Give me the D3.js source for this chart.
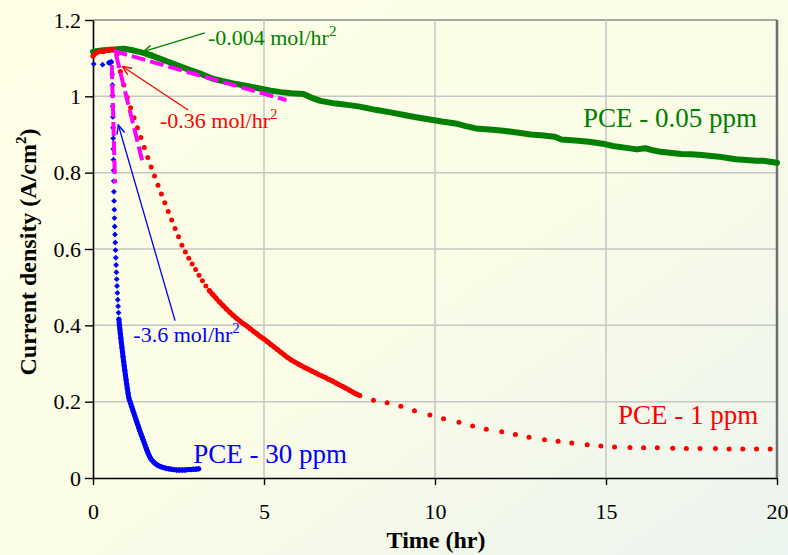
<!DOCTYPE html>
<html>
<head>
<meta charset="utf-8">
<script src="https://cdn.jsdelivr.net/npm/d3@7"></script>
<style>
body{margin:0;background:#fff;}
svg{display:block;font-family:"Liberation Serif","Times New Roman",serif;}
</style>
</head>
<body>
<div id="chart"></div>
<script>
// values
var xTicks=[0,5,10,15,20];
var xTickLabels=["0","5","10","15","20"];
var yTicks=[0,0.2,0.4,0.6,0.8,1,1.2];
var yTickLabels=["0","0.2","0.4","0.6","0.8","1","1.2"];

// PCE - 0.05 ppm
var greenTime=[0,0.3,0.6,0.9,1.2,1.5,1.8,2.1,2.5,2.8,3.1,3.5,3.8,4.1,4.5,4.8,5.2,5.5,5.8,6.15,6.4,6.65,7.1,7.5,7.8,8.3,8.7,9.1,9.4,9.8,10.2,10.6,10.9,11.2,11.6,12.0,12.4,12.8,13.1,13.5,13.7,14.1,14.5,14.9,15.2,15.6,15.9,16.15,16.4,16.6,17.2,17.5,17.8,18.3,18.6,18.8,19.1,19.4,19.6,20];
var greenCurrent=[1.117,1.121,1.123,1.125,1.120,1.113,1.104,1.094,1.080,1.070,1.061,1.046,1.040,1.034,1.027,1.022,1.015,1.011,1.008,1.006,0.996,0.988,0.981,0.977,0.973,0.964,0.958,0.951,0.946,0.940,0.934,0.929,0.922,0.916,0.913,0.910,0.905,0.900,0.898,0.894,0.887,0.884,0.881,0.876,0.870,0.865,0.861,0.864,0.858,0.855,0.849,0.848,0.846,0.842,0.838,0.835,0.833,0.831,0.831,0.826];

// PCE - 1 ppm
var redTime=[0,0.1,0.2,0.3,0.4,0.5,0.6,0.7,0.8,0.9,1.0,1.1,1.2,1.3,1.4,1.5,1.6,1.7,1.8,1.9,2.0,2.1,2.2,2.3,2.4,2.5,2.6,2.7,2.8,2.9,3.0,3.1,3.2,3.3,3.4,3.5,3.6,3.7,3.8,3.9,4.0,4.1,4.2,4.3,4.4,4.5,4.6,4.7,4.8,4.9,5.0,5.1,5.2,5.3,5.4,5.5,5.6,5.7,5.8,5.9,6.0,6.1,6.2,6.3,6.4,6.5,6.6,6.7,6.8,6.9,7.0,7.1,7.2,7.3,7.4,7.5,7.6,7.7,7.8,
  8.2,8.6,9.0,9.4,9.85,10.25,10.7,11.1,11.5,11.95,12.35,12.75,13.2,13.6,14.0,14.45,14.85,15.25,15.7,16.1,16.5,16.95,17.35,17.75,18.2,18.6,19.0,19.4,19.8];
var redCurrent=[1.106,1.114,1.119,1.117,1.121,1.122,1.123,1.110,1.065,1.030,0.997,0.970,0.944,0.918,0.892,0.866,0.840,0.815,0.791,0.767,0.744,0.721,0.698,0.676,0.654,0.632,0.610,0.592,0.576,0.561,0.546,0.531,0.517,0.503,0.491,0.481,0.471,0.461,0.452,0.443,0.434,0.426,0.418,0.411,0.404,0.398,0.391,0.384,0.377,0.370,0.364,0.357,0.350,0.343,0.336,0.329,0.322,0.315,0.309,0.304,0.299,0.294,0.289,0.285,0.280,0.276,0.271,0.267,0.263,0.258,0.254,0.249,0.244,0.240,0.235,0.230,0.225,0.220,0.216,
  0.204,0.197,0.188,0.176,0.165,0.155,0.146,0.136,0.128,0.121,0.114,0.107,0.100,0.096,0.092,0.087,0.084,0.081,0.080,0.079,0.079,0.078,0.077,0.077,0.077,0.076,0.076,0.076,0.076];

// PCE - 30 ppm
var blueTime=[0.02,0.28,0.47,0.53,0.562,0.567,0.572,0.577,0.582,0.587,0.591,0.595,0.599,0.603,0.607,0.611,0.616,0.622,0.628,0.635,0.642,0.650,0.658,0.666,0.675,0.684,0.693,0.703,0.713,0.723,0.734,0.746,0.758,0.771,
  0.785,0.800,0.815,0.830,0.846,0.862,0.878,0.895,0.912,0.930,0.948,0.966,0.985,1.005,1.025,1.046,
  1.07,1.10,1.13,1.16,1.19,1.22,1.25,1.28,1.31,1.34,1.37,1.40,1.43,1.46,1.49,1.52,1.55,1.58,1.61,1.64,1.67,1.70,1.74,1.78,1.83,1.88,1.94,2.00,2.07,2.14,2.21,2.29,2.37,2.45,2.53,2.61,2.69,2.77,2.85,2.93,3.01,3.09];
var blueCurrent=[1.085,1.083,1.088,1.090,1.058,1.030,1.002,0.974,0.946,0.918,0.890,0.862,0.834,0.806,0.778,0.750,0.726,0.703,0.681,0.659,0.638,0.617,0.597,0.577,0.558,0.539,0.521,0.503,0.485,0.467,0.450,0.433,0.416,0.402,
  0.390,0.378,0.366,0.354,0.342,0.330,0.318,0.306,0.294,0.282,0.270,0.258,0.246,0.234,0.222,0.210,
  0.203,0.195,0.187,0.179,0.171,0.163,0.155,0.147,0.139,0.131,0.123,0.116,0.109,0.101,0.094,0.087,0.079,0.072,0.065,0.059,0.054,0.049,0.045,0.041,0.037,0.034,0.031,0.029,0.027,0.025,0.024,0.023,0.022,0.021,0.021,0.021,0.021,0.022,0.022,0.023,0.023,0.024];

// dashed tangent lines (start / end)
var tangentTime=[[0.6,5.66],[0.67,1.47],[0.55,0.643]];
var tangentCurrent=[[1.119,0.990],[1.11,0.82],[1.082,0.772]];

var width=788, height=555;
var margin={top:20,right:11,bottom:77,left:93};

var svg=d3.select("#chart").append("svg")
  .attr("width",width).attr("height",height);

var defs=svg.append("defs");
var grad=defs.append("linearGradient").attr("id","bg")
  .attr("x1","0").attr("y1","0").attr("x2","1").attr("y2","1");
grad.append("stop").attr("offset","0").attr("stop-color","#ffffe8");
grad.append("stop").attr("offset","0.5").attr("stop-color","#fbfde6");
grad.append("stop").attr("offset","1").attr("stop-color","#ecf4ef");
svg.append("rect").attr("width",width).attr("height",height).attr("fill","url(#bg)");

function arrowMarker(id,color){
  defs.append("marker").attr("id",id)
    .attr("viewBox","0 0 10 10").attr("refX",9).attr("refY",5)
    .attr("markerWidth",10).attr("markerHeight",10)
    .attr("markerUnits","userSpaceOnUse").attr("orient","auto")
    .append("path").attr("d","M0,1 L9,5 L0,9")
    .attr("fill","none").attr("stroke",color).attr("stroke-width",1.4);
}
arrowMarker("arG","#008000");
arrowMarker("arR","#ff0000");
arrowMarker("arB","#0000ff");

var x=d3.scaleLinear().domain([0,20]).range([margin.left,width-margin.right]);
var y=d3.scaleLinear().domain([0,1.2]).range([height-margin.bottom,margin.top]);

// grid
svg.append("g").selectAll("line").data(yTicks.slice(1)).enter().append("line")
  .attr("x1",x(0)).attr("x2",x(20)).attr("y1",d=>y(d)).attr("y2",d=>y(d))
  .attr("stroke",d=>d===1.2?"#8a8a8a":"#c6c6c6").attr("stroke-width",1.5);
svg.append("g").selectAll("line").data(xTicks.slice(1)).enter().append("line")
  .attr("x1",d=>x(d)).attr("x2",d=>x(d)).attr("y1",y(0)).attr("y2",y(1.2))
  .attr("stroke",d=>d===20?"#6e6e6e":"#c6c6c6").attr("stroke-width",d=>d===20?2.5:1.5);

// axes
var xAxis=svg.append("g").attr("transform","translate(0,"+y(0)+")")
  .call(d3.axisBottom(x).tickValues(xTicks).tickFormat((d,i)=>xTickLabels[i]).tickSize(7).tickSizeOuter(0).tickPadding(18));
var yAxis=svg.append("g").attr("transform","translate("+x(0)+",0)")
  .call(d3.axisLeft(y).tickValues(yTicks).tickFormat((d,i)=>yTickLabels[i]).tickSize(8).tickSizeOuter(0).tickPadding(4));
[xAxis,yAxis].forEach(function(a){
  a.select(".domain").attr("stroke","#000").attr("stroke-width",1.6);
  a.selectAll(".tick line").attr("stroke","#000").attr("stroke-width",1.4);
  a.selectAll(".tick text").attr("font-family","Liberation Serif").attr("font-size",22).attr("fill","#000");
});

// split a series into runs where neighbouring markers touch
function runs(ts,vs,gap){
  var out=[],cur=[[ts[0],vs[0]]];
  for(var i=1;i<ts.length;i++){
    var dx=x(ts[i])-x(ts[i-1]), dy=y(vs[i])-y(vs[i-1]);
    if(Math.sqrt(dx*dx+dy*dy)<=gap) cur.push([ts[i],vs[i]]);
    else { out.push(cur); cur=[[ts[i],vs[i]]]; }
  }
  out.push(cur);
  return out.filter(r=>r.length>1);
}
var line=d3.line().x(d=>x(d[0])).y(d=>y(d[1]));

// green
svg.append("path").datum(d3.zip(greenTime,greenCurrent))
  .attr("d",line).attr("fill","none").attr("stroke","#008000")
  .attr("stroke-width",6).attr("stroke-linejoin","round").attr("stroke-linecap","round");

// blue
svg.append("g").selectAll("path").data(runs(blueTime,blueCurrent,5.5)).enter().append("path")
  .attr("d",line).attr("fill","none").attr("stroke","#0000ff")
  .attr("stroke-width",5).attr("stroke-linejoin","round").attr("stroke-linecap","round");
svg.append("g").selectAll("path").data(d3.zip(blueTime,blueCurrent)).enter().append("path")
  .attr("d",d3.symbol(d3.symbolSquare,17))
  .attr("transform",d=>"translate("+x(d[0])+","+y(d[1])+") rotate(45)")
  .attr("fill","#0000ff");

// red
svg.append("g").selectAll("path").data(runs(redTime,redCurrent,5.5)).enter().append("path")
  .attr("d",line).attr("fill","none").attr("stroke","#ff0000")
  .attr("stroke-width",4.8).attr("stroke-linejoin","round").attr("stroke-linecap","round");
svg.append("g").selectAll("circle").data(d3.zip(redTime,redCurrent)).enter().append("circle")
  .attr("cx",d=>x(d[0])).attr("cy",d=>y(d[1])).attr("r",2.5).attr("fill","#ff0000");

// tangents
svg.append("g").selectAll("line").data(tangentTime).enter().append("line")
  .attr("x1",d=>x(d[0])).attr("x2",d=>x(d[1]))
  .attr("y1",(d,i)=>y(tangentCurrent[i][0])).attr("y2",(d,i)=>y(tangentCurrent[i][1]))
  .attr("stroke","#ff00ff").attr("stroke-width",4).attr("stroke-dasharray","14,5");

// annotations
function rateNote(txt,color,tx,ty,ax1,ay1,ax2,ay2,mk){
  svg.append("line").attr("x1",x(ax1)).attr("y1",y(ay1)).attr("x2",x(ax2)).attr("y2",y(ay2))
    .attr("stroke",color).attr("stroke-width",1.3).attr("marker-end","url(#"+mk+")");
  var t=svg.append("text").attr("x",x(tx)).attr("y",y(ty)).attr("font-size",22).attr("fill",color);
  t.append("tspan").text(txt);
  t.append("tspan").attr("font-size",15).attr("dy",-9).text("2");
}
rateNote("-0.004 mol/hr","#008000",3.36,1.134,3.27,1.166,1.47,1.117,"arG");
rateNote("-0.36 mol/hr","#ff0000",1.96,0.917,2.78,0.964,0.86,1.078,"arR");
rateNote("-3.6 mol/hr","#0000ff",1.18,0.357,2.40,0.412,0.74,0.925,"arB");

// series labels
svg.append("text").attr("x",x(14.33)).attr("y",y(0.919)).attr("font-size",27).attr("fill","#008000").text("PCE - 0.05 ppm");
svg.append("text").attr("x",x(15.35)).attr("y",y(0.1415)).attr("font-size",27).attr("fill","#ff0000").text("PCE - 1 ppm");
svg.append("text").attr("x",x(2.93)).attr("y",y(0.040)).attr("font-size",27).attr("fill","#0000ff").text("PCE - 30 ppm");

// axis titles
svg.append("text").attr("x",436).attr("y",548).attr("text-anchor","middle")
  .attr("font-size",24).attr("font-weight","bold").text("Time (hr)");
var yt=svg.append("text").attr("transform","translate(36,252) rotate(-90)").attr("text-anchor","middle")
  .attr("font-size",24).attr("font-weight","bold");
yt.append("tspan").text("Current density (A/cm");
yt.append("tspan").attr("font-size",15).attr("dy",-10).text("2");
yt.append("tspan").attr("dy",10).text(")");
</script>
</body>
</html>
